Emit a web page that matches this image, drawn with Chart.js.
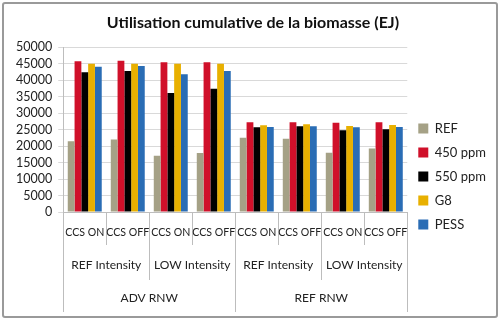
<!DOCTYPE html>
<html><head><meta charset="utf-8">
<script src="https://cdn.jsdelivr.net/npm/chart.js@4.4.1/dist/chart.umd.min.js"></script>
<style>
html,body{margin:0;padding:0;background:#fff;}
#wrap{position:relative;width:500px;height:321px;}
#frame{position:absolute;left:2px;top:2px;width:492px;height:312px;border:2px solid #9a9a9a;border-radius:3px;pointer-events:none;}
canvas{display:block;}
</style></head>
<body>
<div id="wrap"><canvas id="c" width="500" height="321"></canvas><div id="frame"></div></div>
<script>
const ccsLabels = ["CCS ON","CCS OFF","CCS ON","CCS OFF","CCS ON","CCS OFF","CCS ON","CCS OFF"];
const intensityLabels = ["REF Intensity","LOW Intensity","REF Intensity","LOW Intensity"];
const rnwLabels = ["ADV RNW","REF RNW"];
const seriesNames = ["REF","450 ppm","550 ppm","G8","PESS"];
const refVals   = [21500,22000,17100,17900,22500,22200,18000,19300];
const ppm450    = [45700,45900,45400,45400,27200,27200,27100,27200];
const ppm550    = [42400,42800,36100,37400,25700,26000,24800,25100];
const g8Vals    = [45000,45000,45000,45000,26300,26600,26100,26400];
const pessVals  = [44100,44300,41800,42800,25800,26000,25700,25800];
const colors = ["#A5A186","#D0102A","#000000","#E8B000","#2A6DB5"];
const yTicks = [0,5000,10000,15000,20000,25000,30000,35000,40000,45000,50000];

const FONT = "Lato, 'Open Sans', sans-serif";

const groupLabels = {
  id:'groupLabels',
  afterDraw(chart){
    const ctx = chart.ctx, xs = chart.scales.x, ca = chart.chartArea;
    const left = xs.left, right = xs.right, n = ccsLabels.length, w = (right-left)/n;
    const top = ca.bottom;
    ctx.save();
    ctx.strokeStyle = '#BDBDBD'; ctx.lineWidth = 1;
    for(let k=0;k<=n;k++){
      const px = Math.round(left + k*w) + 0.5;
      let len = 33;
      if(k%4===0) len = 100; else if(k%2===0) len = 68;
      ctx.beginPath(); ctx.moveTo(px, top); ctx.lineTo(px, top+len); ctx.stroke();
    }
    ctx.fillStyle = '#222';
    ctx.font = "10.6px " + FONT;
    ctx.textAlign='center'; ctx.textBaseline='middle';
    ccsLabels.forEach((l,i)=>ctx.fillText(l, xs.getPixelForValue(i), top+21));
    ctx.font = "12px " + FONT;
    intensityLabels.forEach((l,i)=>ctx.fillText(l, left + (2*i+1)*w, top+53));
    rnwLabels.forEach((l,i)=>ctx.fillText(l, left + (4*i+2)*w, top+86));
    ctx.restore();
  }
};

const datasets = [refVals,ppm450,ppm550,g8Vals,pessVals].map((d,i)=>({
  label: seriesNames[i], data: d, backgroundColor: colors[i], borderWidth:0,
  barPercentage:1.0, categoryPercentage:0.79
}));

new Chart(document.getElementById('c'), {
  type:'bar',
  data:{labels:ccsLabels, datasets},
  plugins:[groupLabels],
  options:{
    responsive:false, animation:false,
    layout:{padding:{left:10,right:4,top:0,bottom:6}},
    plugins:{
      title:{display:true,text:'Utilisation cumulative de la biomasse (EJ)',
        font:{family:FONT,size:16,weight:'bold'},color:'#111',padding:{top:13,bottom:15}},
      legend:{position:'right',align:'center',
        title:{display:true,text:' ',font:{size:1},padding:{top:37,bottom:0}},
        labels:{boxWidth:10,boxHeight:10,padding:11,color:'#222',font:{family:FONT,size:13}}},
      tooltip:{enabled:false}
    },
    scales:{
      x:{ticks:{display:false},grid:{display:false,drawTicks:false},border:{display:true,color:'#BDBDBD'},
        afterFit(s){ s.height = 103; }},
      y:{min:0,max:50000,
        afterBuildTicks(s){ s.ticks = yTicks.map(v=>({value:v})); },
        ticks:{color:'#222',font:{family:FONT,size:12.5},padding:6,autoSkip:false,callback:v=>String(v)},
        grid:{color:'#D9D9D9',tickLength:5},
        border:{display:true,color:'#BDBDBD'}}
    }
  }
});
</script>
</body></html>
